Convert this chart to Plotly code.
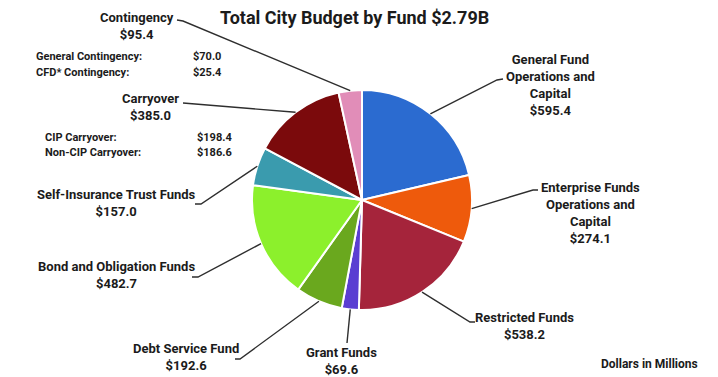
import math
import plotly.graph_objects as go

# page body has an 8px margin: draw a 710x369 figure and shift coordinates
OFF = 8
W, H = 718 - OFF, 377 - OFF

# ---- data ----
funds = ["General Fund Operations and Capital", "Enterprise Funds Operations and Capital",
         "Restricted Funds", "Grant Funds", "Debt Service Fund", "Bond and Obligation Funds",
         "Self-Insurance Trust Funds", "Carryover", "Contingency"]
values = [595.4, 274.1, 538.2, 69.6, 192.6, 482.7, 157.0, 385.0, 95.4]
label_lines = [["General Fund", "Operations and", "Capital"],
               ["Enterprise Funds", "Operations and", "Capital"],
               ["Restricted Funds"], ["Grant Funds"], ["Debt Service Fund"],
               ["Bond and Obligation Funds"], ["Self-Insurance Trust Funds"],
               ["Carryover"], ["Contingency"]]
colors = ["#2B6BD0", "#EE5A0C", "#A5243B", "#5A3ED2", "#6AA81E",
          "#8CF02C", "#3A9BAE", "#7B0A0C", "#E18DB8"]
sub_items = {
    "Contingency": [("General Contingency:", 70.0), ("CFD* Contingency:", 25.4)],
    "Carryover": [("CIP Carryover:", 198.4), ("Non-CIP Carryover:", 186.6)],
}
title = "Total City Budget by Fund $2.79B"
unit_note = "Dollars in Millions"

# ---- layout constants (pixels in the 718x377 window) ----
CX, CY, R = 362, 200, 110
FONT = "Roboto"
TXT = "#1b1b1b"
label_pos = [(550, 85), (590, 213), (524, 326), (341, 361), (186, 357),
             (117, 275), (117, 203), (150, 107), (137, 26)]
elbows = [(497, 80), (533, 190), (470, 322), (347, 343), (240, 359),
          (198, 277), (201, 204), (183, 103), (183, 21)]
ends = [(503, 79), (538, 190), (475, 322), (347, 343), (235, 359),
        (192, 277), (195, 204), (183, 103), (177, 20)]
sub_pos = {"Contingency": (34, 191, 56, 16), "Carryover": (43, 195, 137, 15)}


def px(x):
    return (x - OFF) / W


def py(y):
    return 1 - (y - OFF) / H


fig = go.Figure(go.Pie(
    labels=funds, values=values, sort=False, direction="clockwise", rotation=0,
    marker=dict(colors=colors, line=dict(color="white", width=2)),
    textinfo="none", hoverinfo="label+value", showlegend=False,
    domain=dict(x=[px(CX - R), px(CX + R)], y=[py(CY + R), py(CY - R)]),
))

annotations = []
shapes = []
total = sum(values)
cum = 0.0
for i, v in enumerate(values):
    mid = 2 * math.pi * (cum + v / 2) / total
    cum += v
    ax_ = CX + R * math.sin(mid)
    ay_ = CY - R * math.cos(mid)
    ex, ey = elbows[i]
    tx, ty = ends[i]
    shapes.append(dict(type="path", xref="paper", yref="paper",
                       path=f"M {px(ax_)},{py(ay_)} L {px(ex)},{py(ey)} L {px(tx)},{py(ty)}",
                       line=dict(color="#2e2e2e", width=1.4)))
    lx, ly = label_pos[i]
    text = "<br>".join(label_lines[i] + [f"${v:.1f}"])
    annotations.append(dict(x=px(lx), y=py(ly), xref="paper", yref="paper",
                            text=text, showarrow=False, xanchor="center", yanchor="middle",
                            align="center",
                            font=dict(family=FONT, size=13, color=TXT, weight="bold")))
    if funds[i] in sub_items:
        x0, x1, y0, dy = sub_pos[funds[i]]
        for k, (name, val) in enumerate(sub_items[funds[i]]):
            yy = y0 + k * dy
            annotations.append(dict(x=px(x0), y=py(yy), xref="paper", yref="paper",
                                    text=name, showarrow=False, xanchor="left", yanchor="middle",
                                    font=dict(family=FONT, size=11, color=TXT, weight="bold")))
            annotations.append(dict(x=px(x1), y=py(yy), xref="paper", yref="paper",
                                    text=f"${val:.1f}", showarrow=False, xanchor="left",
                                    yanchor="middle",
                                    font=dict(family=FONT, size=11, color=TXT, weight="bold")))

annotations.append(dict(x=px(354), y=py(17), xref="paper", yref="paper", text=title,
                        showarrow=False, xanchor="center", yanchor="middle",
                        font=dict(family=FONT, size=18, color=TXT, weight="bold")))
annotations.append(dict(x=px(700), y=py(364), xref="paper", yref="paper", text=unit_note,
                        showarrow=False, xanchor="right", yanchor="middle",
                        font=dict(family=FONT, size=12, color=TXT, weight="bold")))

shapes.append(dict(type="line", xref="paper", yref="paper", x0=px(715), x1=px(715),
                   y0=0, y1=1, line=dict(color="#8f9696", width=2)))

fig.update_layout(width=W, height=H, margin=dict(l=0, r=0, t=0, b=0),
                  paper_bgcolor="white", plot_bgcolor="white",
                  annotations=annotations, shapes=shapes)

fig.write_html("out.html")
